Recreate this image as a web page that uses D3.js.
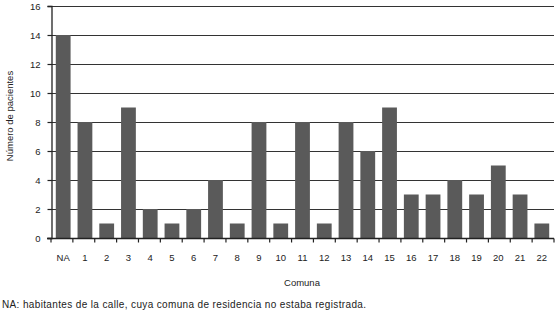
<!DOCTYPE html>
<html>
<head>
<meta charset="utf-8">
<script src="https://cdn.jsdelivr.net/npm/d3@7"></script>
<style>
  body { margin: 0; background: #fff; }
  svg text { font-family: "Liberation Sans", Arial, sans-serif; fill: #222; }
</style>
</head>
<body>
<div id="chart"></div>
<script>
// data
const comunas = ['NA', '1', '2', '3', '4', '5', '6', '7', '8', '9', '10', '11',
  '12', '13', '14', '15', '16', '17', '18', '19', '20', '21', '22'];
const pacientes = [14, 8, 1, 9, 2, 1, 2, 4, 1, 8, 1, 8, 1, 8, 6, 9, 3, 3, 4, 3, 5, 3, 1];
const yTicks = [0, 2, 4, 6, 8, 10, 12, 14, 16];

const width = 556, height = 313;
const plotLeft = 51, plotRight = 554, plotTop = 6, plotBottom = 238;

const svg = d3.select('#chart').append('svg')
  .attr('width', width)
  .attr('height', height);

const x = d3.scaleBand()
  .domain(comunas)
  .range([plotLeft, plotRight])
  .paddingInner(0.32)
  .paddingOuter(0.22);

const y = d3.scaleLinear()
  .domain([0, 16])
  .range([plotBottom, plotTop]);

// gridlines
svg.append('g')
  .selectAll('line')
  .data(yTicks.filter(d => d > 0))
  .enter().append('line')
  .attr('x1', plotLeft)
  .attr('x2', plotRight)
  .attr('y1', d => Math.round(y(d)) + 0.5)
  .attr('y2', d => Math.round(y(d)) + 0.5)
  .attr('stroke', '#333')
  .attr('stroke-width', 1.2);

// bars
svg.append('g')
  .selectAll('rect')
  .data(pacientes)
  .enter().append('rect')
  .attr('x', (d, i) => x(comunas[i]))
  .attr('y', d => y(d))
  .attr('width', x.bandwidth())
  .attr('height', d => y(0) - y(d))
  .attr('fill', '#5a5a5a');

// y axis
const yAxis = svg.append('g')
  .attr('transform', 'translate(' + (plotLeft + 0.5) + ',0)')
  .call(d3.axisLeft(y).tickValues(yTicks).tickSize(4).tickPadding(7));
yAxis.select('.domain').attr('stroke', '#222').attr('stroke-width', 1.3);
yAxis.selectAll('.tick line').attr('stroke', '#222').attr('stroke-width', 1.2);
yAxis.selectAll('text').attr('font-size', 9.5).attr('fill', '#222');

// x axis, ticks between the bars
const boundaries = d3.range(comunas.length + 1)
  .map(i => plotLeft + (plotRight - plotLeft) * i / comunas.length);
const xAxis = svg.append('g')
  .attr('transform', 'translate(0,' + (plotBottom + 0.5) + ')');
xAxis.append('line')
  .attr('x1', plotLeft - 4)
  .attr('x2', plotRight)
  .attr('stroke', '#222')
  .attr('stroke-width', 1.3);
xAxis.selectAll('line.tk')
  .data(boundaries)
  .enter().append('line')
  .attr('class', 'tk')
  .attr('x1', d => d)
  .attr('x2', d => d)
  .attr('y1', 0)
  .attr('y2', 4)
  .attr('stroke', '#222')
  .attr('stroke-width', 1.2);
xAxis.selectAll('text')
  .data(comunas)
  .enter().append('text')
  .attr('x', d => x(d) + x.bandwidth() / 2)
  .attr('y', 22)
  .attr('text-anchor', 'middle')
  .attr('font-size', 9.5)
  .text(d => d);

// axis titles
svg.append('text')
  .attr('transform', 'translate(13,116) rotate(-90)')
  .attr('text-anchor', 'middle')
  .attr('font-size', 9.5)
  .text('Número de pacientes');

svg.append('text')
  .attr('x', 302)
  .attr('y', 286)
  .attr('text-anchor', 'middle')
  .attr('font-size', 9.5)
  .text('Comuna');

svg.append('text')
  .attr('x', 2)
  .attr('y', 308)
  .attr('font-size', 10)
  .attr('textLength', 364)
  .attr('lengthAdjust', 'spacing')
  .text('NA: habitantes de la calle, cuya comuna de residencia no estaba registrada.');
</script>
</body>
</html>
